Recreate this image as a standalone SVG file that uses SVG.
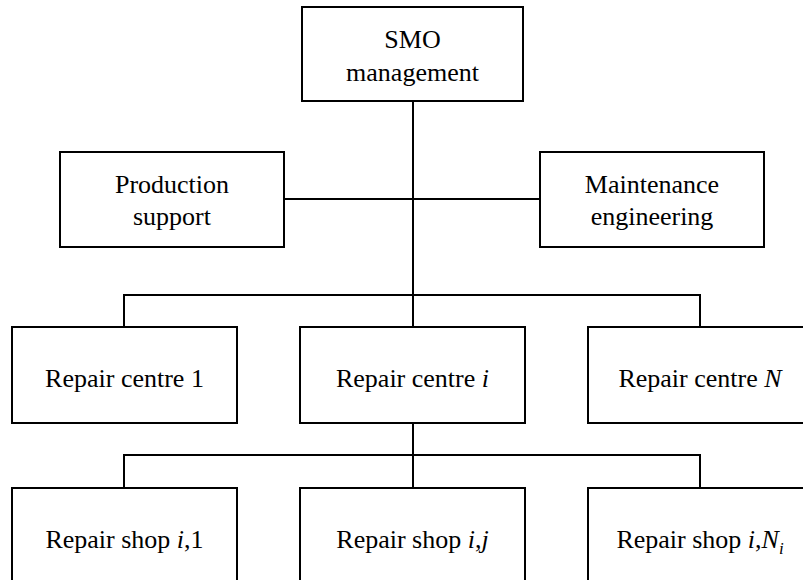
<svg xmlns="http://www.w3.org/2000/svg" width="803" height="580" viewBox="0 0 803 580">
<style>
rect.box{fill:#fff;stroke:#000;stroke-width:2}
.conn line{stroke:#000;stroke-width:2}
text{font-family:"Liberation Serif","Times New Roman",serif;font-size:26px;fill:#000;text-anchor:middle}
.it{font-style:italic}
</style>
<rect width="803" height="580" fill="#fff"/>
<g class="conn" id="connectors">
<line x1="413" y1="101" x2="413" y2="327"/>
<line x1="284" y1="199" x2="540" y2="199"/>
<line x1="123" y1="295" x2="701" y2="295"/>
<line x1="124" y1="295" x2="124" y2="327"/>
<line x1="700" y1="295" x2="700" y2="327"/>
<line x1="413" y1="423" x2="413" y2="488"/>
<line x1="123" y1="455" x2="701" y2="455"/>
<line x1="124" y1="455" x2="124" y2="488"/>
<line x1="700" y1="455" x2="700" y2="488"/>
</g>
<g id="smo">
<rect class="box" x="302" y="7" width="221" height="94"/>
<text x="412.5" y="48">SMO</text>
<text x="412.5" y="81">management</text>
</g>
<g id="production">
<rect class="box" x="60" y="152" width="224" height="95"/>
<text x="172" y="193">Production</text>
<text x="172" y="225">support</text>
</g>
<g id="maintenance">
<rect class="box" x="540" y="152" width="224" height="95"/>
<text x="652" y="193">Maintenance</text>
<text x="652" y="225">engineering</text>
</g>
<g id="rc1">
<rect class="box" x="12" y="327" width="225" height="96"/>
<text x="124.5" y="387">Repair centre 1</text>
</g>
<g id="rci">
<rect class="box" x="300" y="327" width="225" height="96"/>
<text x="412.5" y="387">Repair centre <tspan class="it">i</tspan></text>
</g>
<g id="rcN">
<rect class="box" x="588" y="327" width="225" height="96"/>
<text x="700" y="387">Repair centre <tspan class="it">N</tspan></text>
</g>
<g id="rs1">
<rect class="box" x="12" y="488" width="225" height="96"/>
<text x="124.5" y="548">Repair shop <tspan class="it">i</tspan>,1</text>
</g>
<g id="rsj">
<rect class="box" x="300" y="488" width="225" height="96"/>
<text x="412.5" y="548">Repair shop <tspan class="it">i</tspan>,<tspan class="it">j</tspan></text>
</g>
<g id="rsN">
<rect class="box" x="588" y="488" width="225" height="96"/>
<text x="700" y="548">Repair shop <tspan class="it">i</tspan>,<tspan class="it">N</tspan><tspan class="it" font-size="17" dy="6">i</tspan></text>
</g>
</svg>
